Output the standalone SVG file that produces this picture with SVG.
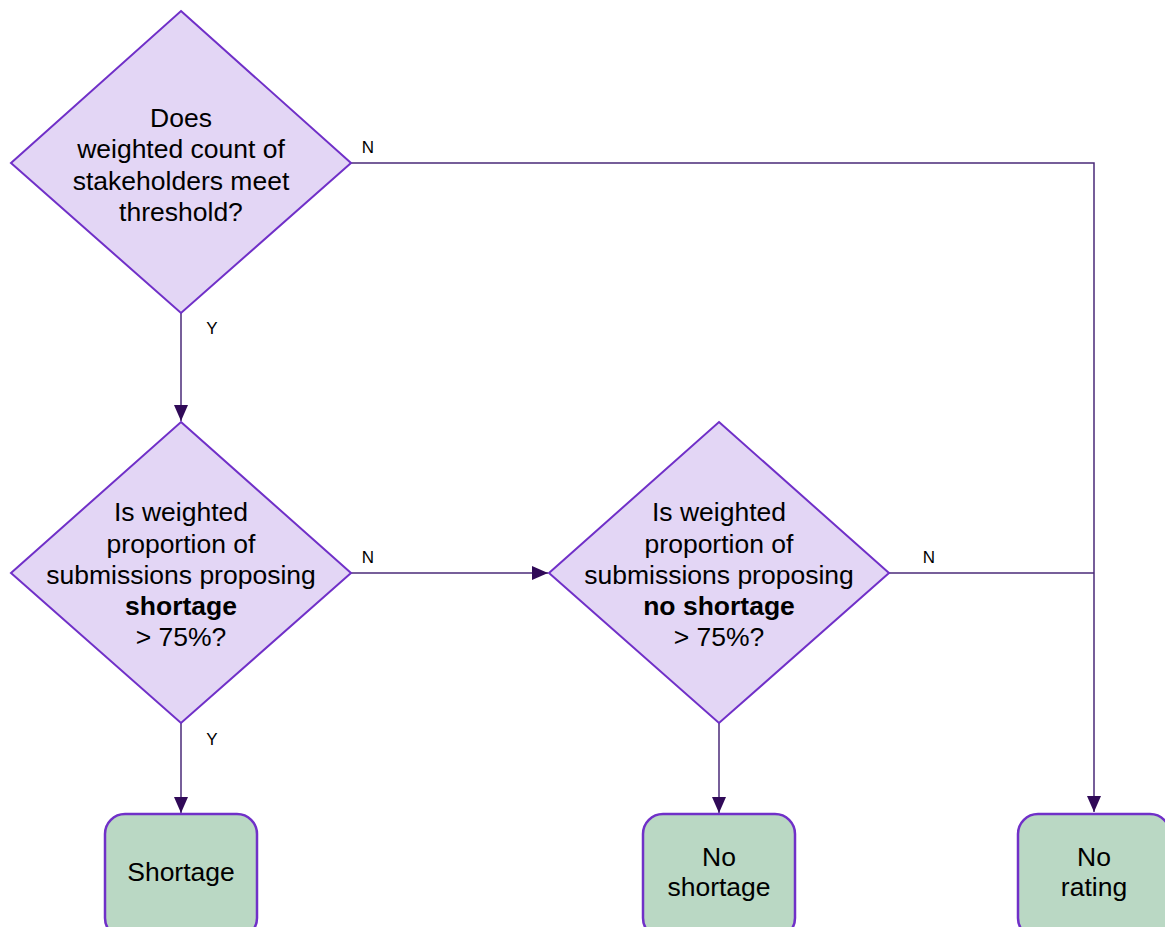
<svg xmlns="http://www.w3.org/2000/svg" width="1165" height="927" viewBox="0 0 1165 927">
<style>
.dia{fill:#e3d6f5;stroke:#7030c8;stroke-width:2}
.box{fill:#bad8c4;stroke:#7030c8;stroke-width:2.5}
.t{font-family:"Liberation Sans",Arial,sans-serif;font-size:26.5px;fill:#000;text-anchor:middle}
.l{font-family:"Liberation Sans",Arial,sans-serif;font-size:17px;fill:#000;text-anchor:middle}
.c{fill:none;stroke:#4a2a78;stroke-width:1.5}
</style>
<defs>
<marker id="ah2" markerWidth="16" markerHeight="16" refX="16" refY="8" orient="auto" markerUnits="userSpaceOnUse" viewBox="0 0 16 16">
<path d="M0,1 L16,8 L0,15 Z" fill="#300a58"/>
</marker>
</defs>
<rect width="1165" height="927" fill="#ffffff"/>
<g id="connectors">
<path class="c" d="M351,163 H1094 V812" marker-end="url(#ah2)"/>
<path class="c" d="M181,313 V421" marker-end="url(#ah2)"/>
<path class="c" d="M351,573 H548" marker-end="url(#ah2)"/>
<path class="c" d="M889,573 H1094"/>
<path class="c" d="M181,723 V813" marker-end="url(#ah2)"/>
<path class="c" d="M719,723 V813" marker-end="url(#ah2)"/>
<text class="l" x="368" y="153">N</text>
<text class="l" x="212" y="334">Y</text>
<text class="l" x="368" y="563">N</text>
<text class="l" x="929" y="563">N</text>
<text class="l" x="212" y="745">Y</text>
</g>
<g id="d1">
<polygon class="dia" points="181,11 351,163 181,313 11,163"/>
<text class="t" x="181" y="127">Does</text>
<text class="t" x="181" y="158">weighted count of</text>
<text class="t" x="181" y="190">stakeholders meet</text>
<text class="t" x="181" y="221">threshold?</text>
</g>
<g id="d2">
<polygon class="dia" points="181,422 351,573 181,723 11,573"/>
<text class="t" x="181" y="521">Is weighted</text>
<text class="t" x="181" y="553">proportion of</text>
<text class="t" x="181" y="584">submissions proposing</text>
<text class="t" x="181" y="615" font-weight="bold">shortage</text>
<text class="t" x="181" y="646">&gt; 75%?</text>
</g>
<g id="d3">
<polygon class="dia" points="719,422 889,573 719,723 549,573"/>
<text class="t" x="719" y="521">Is weighted</text>
<text class="t" x="719" y="553">proportion of</text>
<text class="t" x="719" y="584">submissions proposing</text>
<text class="t" x="719" y="615" font-weight="bold">no shortage</text>
<text class="t" x="719" y="646">&gt; 75%?</text>
</g>
<g id="b1">
<rect class="box" x="105" y="814" width="152" height="124" rx="20"/>
<text class="t" x="181" y="881">Shortage</text>
</g>
<g id="b2">
<rect class="box" x="643" y="814" width="152" height="124" rx="20"/>
<text class="t" x="719" y="866">No</text>
<text class="t" x="719" y="896">shortage</text>
</g>
<g id="b3">
<rect class="box" x="1018" y="814" width="152" height="124" rx="20"/>
<text class="t" x="1094" y="866">No</text>
<text class="t" x="1094" y="896">rating</text>
</g>
</svg>
